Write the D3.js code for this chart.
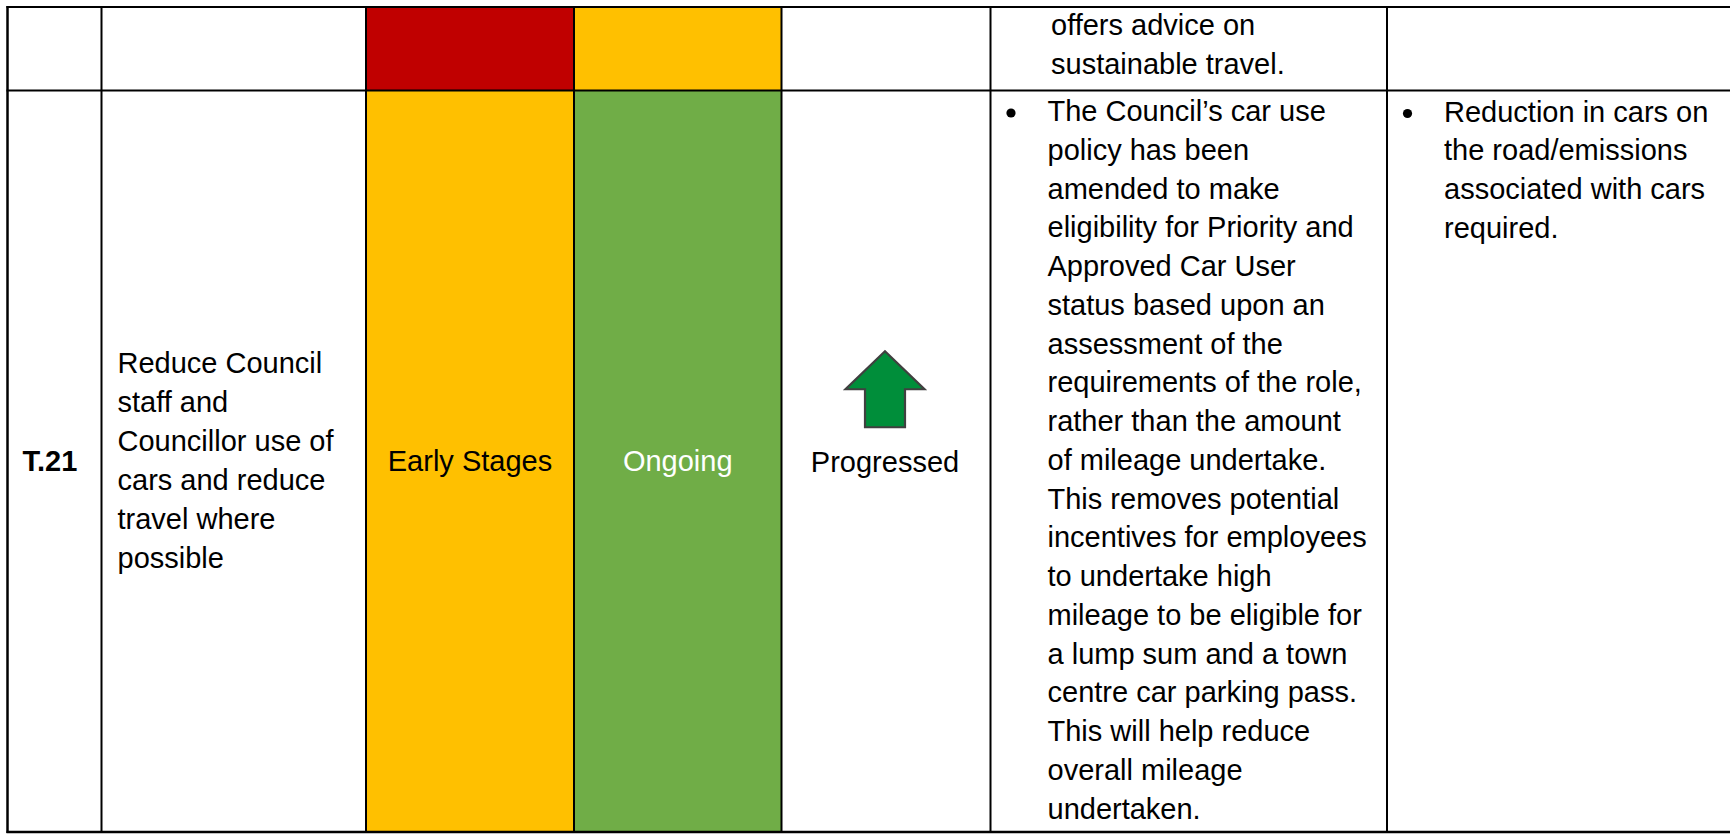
<!DOCTYPE html>
<html>
<head>
<meta charset="utf-8">
<script src="https://cdn.jsdelivr.net/npm/d3@7"></script>
<style>
  html, body { margin: 0; padding: 0; background: #fff; }
  svg { display: block; }
  text { font-family: "Liberation Sans", Arial, sans-serif; }
</style>
</head>
<body>
<svg id="chart" width="1730" height="835"></svg>
<script>
// ---------------- data ----------------
const rowIds = ["", "T.21"];
const actionText = [
  [],
  ["Reduce Council", "staff and", "Councillor use of", "cars and reduce", "travel where", "possible"]
];
const statusOne = ["Red", "Amber"];
const statusOneLabels = ["", "Early Stages"];
const statusTwo = ["Amber", "Green"];
const statusTwoLabels = ["", "Ongoing"];
const progressLabels = ["", "Progressed"];
const updateBullets = [
  [{ bullet: false, lines: ["offers advice on", "sustainable travel."] }],
  [{ bullet: true, lines: [
    "The Council\u2019s car use", "policy has been", "amended to make",
    "eligibility for Priority and", "Approved Car User", "status based upon an",
    "assessment of the", "requirements of the role,", "rather than the amount",
    "of mileage undertake.", "This removes potential", "incentives for employees",
    "to undertake high", "mileage to be eligible for", "a lump sum and a town",
    "centre car parking pass.", "This will help reduce", "overall mileage",
    "undertaken."
  ] }]
];
const impactBullets = [
  [],
  [{ bullet: true, lines: ["Reduction in cars on", "the road/emissions", "associated with cars", "required."] }]
];

// ---------------- layout ----------------
const ragColor = d3.scaleOrdinal()
  .domain(["Red", "Amber", "Green"])
  .range(["#C00000", "#FFC000", "#70AD47"]);

const colEdges = [7.5, 101.5, 366, 574, 781.5, 990.5, 1387, 1760];
const rowEdges = [7, 90.5, 832];
const colX = d3.scaleLinear().domain(d3.range(colEdges.length)).range(colEdges);
const rowY = d3.scaleLinear().domain(d3.range(rowEdges.length)).range(rowEdges);

const FS = 29;
const LH = 38.75;
const LH2 = 39;

const svg = d3.select("#chart");

// cell fills
const fills = [];
rowIds.forEach((_, r) => {
  fills.push({ r, c: 2, color: ragColor(statusOne[r]) });
  fills.push({ r, c: 3, color: ragColor(statusTwo[r]) });
});
svg.append("g").selectAll("rect").data(fills).join("rect")
  .attr("x", d => colX(d.c))
  .attr("y", d => rowY(d.r))
  .attr("width", d => colX(d.c + 1) - colX(d.c))
  .attr("height", d => rowY(d.r + 1) - rowY(d.r))
  .attr("fill", d => d.color);

// grid lines
const grid = svg.append("g").attr("stroke", "#000").attr("stroke-width", 2);
colEdges.forEach((x, i) => {
  grid.append("line").attr("x1", x).attr("x2", x)
    .attr("y1", rowEdges[0] - 1).attr("y2", rowEdges[rowEdges.length - 1] + 1)
    .attr("stroke-width", (i === 0) ? 2.5 : 2);
});
rowEdges.forEach((y, i) => {
  grid.append("line").attr("x1", colEdges[0] - 1).attr("x2", 1730)
    .attr("y1", y).attr("y2", y)
    .attr("stroke-width", (i === rowEdges.length - 1) ? 2.5 : 2);
});

const rowMid = r => (rowY(r) + rowY(r + 1)) / 2;

// IDs
svg.append("g").selectAll("text").data(rowIds).join("text")
  .attr("x", 22.5)
  .attr("y", (d, r) => rowMid(r) + 9.5)
  .attr("font-size", FS).attr("font-weight", "bold").attr("fill", "#000")
  .text(d => d);

// action text
actionText.forEach((lines, r) => {
  const first = rowMid(r) + 10 - (lines.length - 1) * LH2 / 2 - 1;
  svg.append("g").selectAll("text").data(lines).join("text")
    .attr("x", 117.5)
    .attr("y", (d, i) => first + i * LH2)
    .attr("font-size", FS).attr("fill", "#000")
    .text(d => d);
});

// status labels
svg.append("g").selectAll("text").data(statusOneLabels).join("text")
  .attr("x", (colX(2) + colX(3)) / 2)
  .attr("y", (d, r) => rowMid(r) + 10)
  .attr("text-anchor", "middle").attr("font-size", FS).attr("fill", "#000")
  .text(d => d);
svg.append("g").selectAll("text").data(statusTwoLabels).join("text")
  .attr("x", (colX(3) + colX(4)) / 2)
  .attr("y", (d, r) => rowMid(r) + 10)
  .attr("text-anchor", "middle").attr("font-size", FS).attr("fill", "#fff")
  .text(d => d);

// progress arrow + label
const pcx = (colX(4) + colX(5)) / 2 - 1;
progressLabels.forEach((lab, r) => {
  if (!lab) return;
  const m = rowMid(r);
  const tip = m - 110, headBase = m - 72, bottom = m - 34;
  const hw = 39.5, sw = 20;
  const pts = [[pcx, tip], [pcx + hw, headBase], [pcx + sw, headBase], [pcx + sw, bottom],
               [pcx - sw, bottom], [pcx - sw, headBase], [pcx - hw, headBase]];
  svg.append("path")
    .attr("d", d3.line()(pts) + "Z")
    .attr("fill", "#008E3A").attr("stroke", "#404040").attr("stroke-width", 2.2)
    .attr("stroke-linejoin", "miter");
  svg.append("text")
    .attr("x", pcx).attr("y", m + 11)
    .attr("text-anchor", "middle").attr("font-size", FS).attr("fill", "#000")
    .text(lab);
});

// bullet column renderer
function drawBullets(data, colIndex, firstBaselines) {
  data.forEach((blocks, r) => {
    let y = firstBaselines[r];
    const x0 = colX(colIndex);
    blocks.forEach(b => {
      const g = svg.append("g");
      if (b.bullet) {
        g.append("circle").attr("cx", x0 + 20.5).attr("cy", y - 8).attr("r", 4.6).attr("fill", "#000");
      }
      g.selectAll("text").data(b.lines).join("text")
        .attr("x", x0 + (b.bullet ? 57 : 60.5))
        .attr("y", (d, i) => y + i * LH)
        .attr("font-size", FS).attr("fill", "#000")
        .text(d => d);
      y += b.lines.length * LH;
    });
  });
}
drawBullets(updateBullets, 5, [35, 121]);
drawBullets(impactBullets, 6, [35, 121.5]);
</script>
</body>
</html>
